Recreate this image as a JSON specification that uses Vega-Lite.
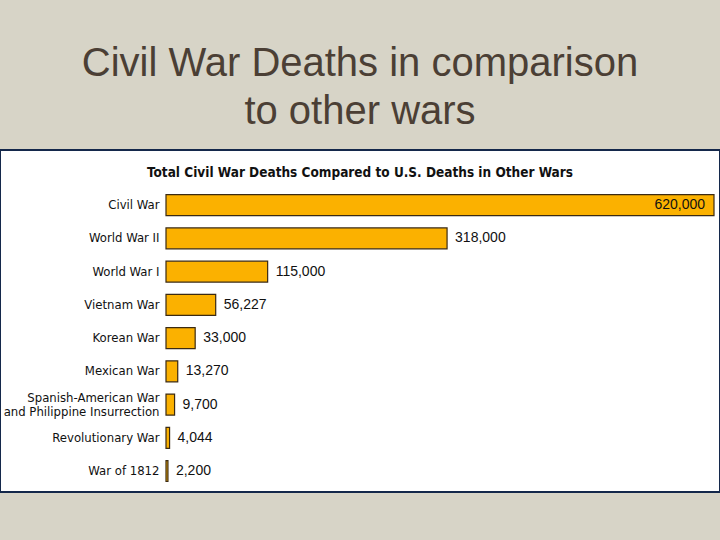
{
  "$schema": "https://vega.github.io/schema/vega-lite/v6.json",
  "width": 720,
  "height": 342,
  "autosize": {"type": "none"},
  "padding": {"left": 0, "right": 0, "top": 150, "bottom": 48},
  "background": "#d7d4c7",
  "title": {
    "text": ["Civil War Deaths in comparison", "to other wars"],
    "subtitle": "Total Civil War Deaths Compared to U.S. Deaths in Other Wars",
    "anchor": "middle",
    "frame": "group",
    "font": "Liberation Sans",
    "fontSize": 40,
    "fontWeight": "normal",
    "color": "#4b3f35",
    "lineHeight": 48,
    "subtitleFont": "DejaVu Sans Condensed",
    "subtitleFontSize": 13.5,
    "subtitleFontWeight": "bold",
    "subtitleColor": "#111111",
    "subtitlePadding": 34,
    "offset": -29
  },
  "config": {
    "view": {"fill": "#ffffff", "stroke": "#14284b", "strokeWidth": 2}
  },
  "data": {
    "values": [
      {"war": "Civil War", "deaths": 620000},
      {"war": "World War II", "deaths": 318000},
      {"war": "World War I", "deaths": 115000},
      {"war": "Vietnam War", "deaths": 56227},
      {"war": "Korean War", "deaths": 33000},
      {"war": "Mexican War", "deaths": 13270},
      {"war": "Spanish-American War|and Philippine Insurrection", "deaths": 9700},
      {"war": "Revolutionary War", "deaths": 4044},
      {"war": "War of 1812", "deaths": 2200}
    ]
  },
  "encoding": {
    "y": {
      "field": "war",
      "type": "nominal",
      "sort": null,
      "scale": {"paddingInner": 0.37, "paddingOuter": 0.83, "align": 0.81},
      "axis": {
        "orient": "left",
        "offset": -166,
        "title": null,
        "ticks": false,
        "tickSize": 0,
        "domain": false,
        "labelPadding": 7,
        "labelFont": "DejaVu Sans Condensed",
        "labelFontSize": 13,
        "labelColor": "#111111",
        "labelLineHeight": 14,
        "labelLimit": 300,
        "labelOffset": {"condition": {"test": "indexof(datum.value, '|') >= 0", "value": -7}, "value": 0},
        "labelExpr": "split(datum.value, '|')"
      }
    },
    "x": {
      "field": "deaths",
      "type": "quantitative",
      "scale": {"domain": [-187810, 626788], "zero": false, "nice": false},
      "axis": null
    }
  },
  "layer": [
    {
      "mark": {"type": "bar", "fill": "#fbb100", "stroke": "#3b2a12", "strokeWidth": 1.2},
      "encoding": {"x2": {"datum": 0}}
    },
    {
      "transform": [{"filter": "datum.deaths < 500000"}],
      "mark": {"type": "text", "align": "left", "dx": 8, "font": "Liberation Sans", "fontSize": 14, "color": "#111111"},
      "encoding": {"text": {"field": "deaths", "type": "quantitative", "format": ","}}
    },
    {
      "transform": [{"filter": "datum.deaths >= 500000"}],
      "mark": {"type": "text", "align": "right", "dx": -9, "font": "Liberation Sans", "fontSize": 14, "color": "#111111"},
      "encoding": {"text": {"field": "deaths", "type": "quantitative", "format": ","}}
    }
  ]
}
